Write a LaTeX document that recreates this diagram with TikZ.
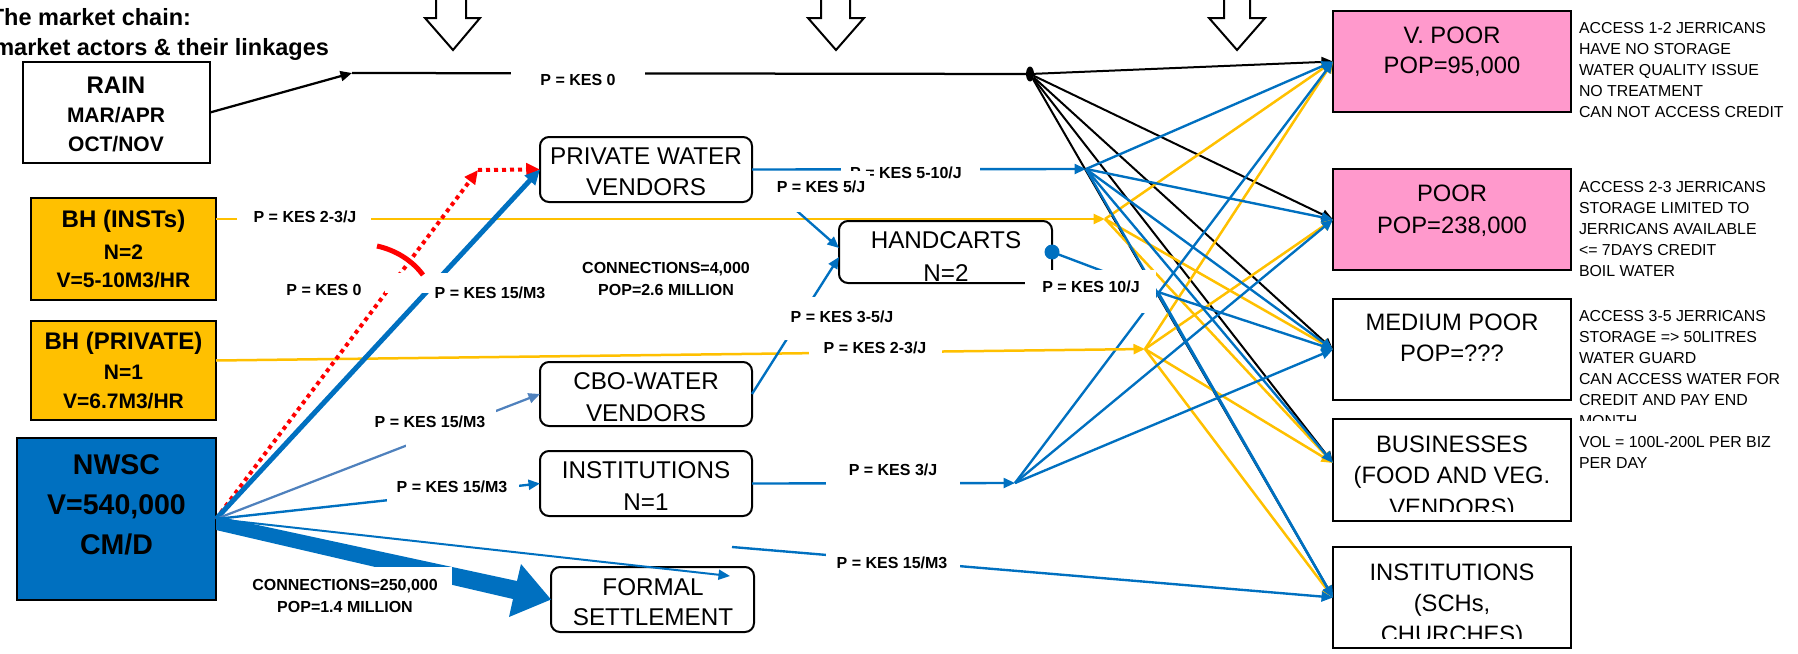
\documentclass[tikz,border=0pt]{standalone}
\usepackage{fontspec}
\setmainfont{Liberation Sans}
\usetikzlibrary{arrows.meta,calc,fit,shapes.geometric}
\definecolor{cblue}{RGB}{0,112,192}
\definecolor{csteel}{RGB}{79,129,189}
\definecolor{cyellow}{RGB}{255,192,0}
\definecolor{cpink}{RGB}{255,153,204}
\definecolor{cred}{RGB}{255,0,0}
\newcommand{\fsz}[2]{\fontsize{#1}{#2}\selectfont}
\begin{document}
\begin{tikzpicture}[x=0.4pt,y=-0.4pt,
  every node/.style={inner sep=0pt, outer sep=0pt},
  frame/.style={draw=black, line width=0.8pt, inner sep=0pt},
  rframe/.style={frame, fill=white, rounded corners=3.6pt},
  tgt/.style={draw=black, line width=1pt, inner sep=0pt},
  btitle/.style={font={\bfseries\fsz{9.6}{11.6}}, align=center},
  btxt/.style={font={\bfseries\fsz{8.4}{11.4}}, align=center},
  boxtxt/.style={font={\fsz{9.7}{12.6}}, align=center},
  tgttxt/.style={font={\fsz{9.5}{12.4}}, align=center},
  note/.style={font={\fsz{6.35}{8.4}}, align=left, anchor=west},
  lbl/.style={font={\bfseries\fsz{6.4}{8.8}}, align=center},
  tip/.style={-{Triangle[length=4.6pt,width=4pt]}},
  bl/.style={draw=cblue, line width=0.95pt},
  yl/.style={draw=cyellow, line width=1pt},
  kl/.style={draw=black, line width=0.8pt},
  hollow/.style={draw=black, line width=0.8pt, fill=white},
]
\useasboundingbox (0,0) rectangle (1798,653);

% ---------- title
\node[anchor=base east, font={\bfseries\fsz{9.4}{11}}] (t1) at (191,25) {The market chain:};
\node[anchor=base east, font={\bfseries\fsz{9.4}{11}}] (t2) at (329,55) {market actors \& their linkages};

% ---------- hollow down arrows
\draw[hollow] (436,-6) -- (436,18) -- (425,18) -- (453,50) -- (480,18) -- (466,18) -- (466,-6);
\draw[hollow] (821,-6) -- (821,18) -- (808,18) -- (836,50) -- (864,18) -- (850,18) -- (850,-6);
\draw[hollow] (1224,-6) -- (1224,18) -- (1209,18) -- (1237,50) -- (1265,18) -- (1250,18) -- (1250,-6);

% ---------- boxes
\node[frame, fill=white, fit={(23,62) (210,163)}] (rain) {};
\node[frame, fill=cyellow, fit={(31,198) (216,300)}] (bhi) {};
\node[frame, fill=cyellow, fit={(31,321) (216,420)}] (bhp) {};
\node[frame, fill=cblue, fit={(17,438) (216,600)}] (nwsc) {};

\node[rframe, fit={(540,137) (752,202)}] (pwv) {};
\node[rframe, fit={(839,221) (1052,283)}] (hc) {};
\node[rframe, fit={(540,362) (752,426)}] (cbo) {};
\node[rframe, fit={(540,451) (752,516)}] (ins1) {};
\node[rframe, fit={(551,567) (754,632)}] (fs) {};

\node[tgt, fill=cpink, fit={(1333,11) (1571,112)}] (vp) {};
\node[tgt, fill=cpink, fit={(1333,169) (1571,270)}] (po) {};
\node[tgt, fill=white, fit={(1333,299) (1571,400)}] (mp) {};
\node[tgt, fill=white, fit={(1333,419) (1571,521)}] (bu) {};
\node[tgt, fill=white, fit={(1333,547) (1571,648)}] (is) {};

% ---------- junction points
\coordinate (rc) at (352,73);
\node[ellipse, fill=black, minimum width=3.2pt, minimum height=6pt] (dot) at (1030,74) {};
\coordinate (J1) at (1086,169);
\coordinate (J2) at (1105,219);
\coordinate (J3) at (1158,292);
\coordinate (J4) at (1145,349);
\coordinate (J5) at (1015,483);
\coordinate (bui) at ($(bu.west)+(0,-7)$);
\coordinate (rd) at (478,170);
\coordinate (hcin1) at (780,196);
\coordinate (fsin) at (730,576);
\coordinate (sch0) at (732,547);

% ---------- rain line
\draw[kl, line width=0.9pt, tip] (rain.east) -- (rc);
\draw[kl, line width=0.9pt] (rc) -- (dot);

% ---------- fan to consumers
\foreach \t in {vp.west,po.west,mp.west,bui,is.west} \draw[kl, tip] (dot) -- (\t);
\foreach \t in {vp.west,mp.west,bui} \draw[yl, tip] (J2) -- (\t);
\foreach \t in {vp.west,po.west,bui,is.west} \draw[yl, tip] (J4) -- (\t);
\foreach \t in {vp.west,po.west,mp.west,bui,is.west} \draw[bl, tip] (J1) -- (\t);
\foreach \t in {mp.west,is.west} \draw[bl, tip] (J3) -- (\t);
\foreach \t in {vp.west,po.west,mp.west} \draw[bl, tip] (J5) -- (\t);

% ---------- supply lines
\draw[yl, tip] (bhi.east |- J2) -- (J2);
\draw[yl, tip] ($(bhp.east)+(0,-10)$) -- (J4);
\draw[bl, tip] (pwv.east) -- (J1);
\node[circle, fill=cblue, minimum size=6pt] (hcdot) at (hc.east) {};
\draw[bl] (hcdot.center) -- (J3);
\draw[bl, tip] (ins1.east) -- (J5);
\draw[bl, tip] (hcin1) -- ($(hc.west)+(0,-4)$);
\draw[bl, tip] (cbo.east) -- ($(hc.west)+(0,5)$);

% ---------- from NWSC
\draw[cred, line width=1.6pt, dash pattern=on 1.6pt off 1.6pt, -{Triangle[length=5.5pt,width=5pt]}] (nwsc.east) -- (rd);
\draw[cred, line width=1.6pt, dash pattern=on 1.6pt off 1.6pt, -{Triangle[length=5.5pt,width=5pt]}] (rd) -- (pwv.west);
\draw[cblue, line width=2pt, -{Triangle[length=6pt,width=5.5pt]}] (nwsc.east) -- (pwv.west);
\draw[csteel, line width=0.9pt, tip] (nwsc.east) -- (cbo.west);
\draw[bl, tip] (nwsc.east) -- (ins1.west);
\draw[bl, line width=0.8pt, tip] (nwsc.east) -- (fsin);
\draw[bl, tip] (sch0) -- (is.west);
\fill[cblue] (216,516) -- (517,581) -- (521,564) -- (fs.west) -- (509,617) -- (513,599) -- (216,530) -- cycle;

% ---------- white gaps behind labels
\fill[white] (511,62) rectangle (645,90);
\fill[white] (237,206) rectangle (371,232);
\fill[white] (385,273) rectangle (550,293);
\fill[white] (406,405) rectangle (496,452);
\fill[white] (387,478) rectangle (519,506);
\fill[white] (809,340) rectangle (942,362);
\fill[white] (785,297) rectangle (900,340);
\fill[white] (841,158) rectangle (980,182);
\fill[white] (826,460) rectangle (960,495);
\fill[white] (826,549) rectangle (960,575);
\fill[white] (1025,270) rectangle (1156,313);
\fill[white] (245,567) rectangle (452,622);

% red blocking bar
\draw[cred, line width=2pt] (377,246) .. controls (395,250) and (412,260) .. (423,275);

% ---------- labels
\node[lbl] (l1) at (578,80) {P = KES 0};
\node[lbl] (l2) at (305,217) {P = KES 2-3/J};
\node[lbl] (l3) at (324,290) {P = KES 0};
\node[lbl] (l4) at (490,293) {P = KES 15/M3};
\node[lbl] (l5) at (666,279) {CONNECTIONS=4,000\\POP=2.6 MILLION};
\node[lbl] (l6) at (906,173) {P = KES 5-10/J};
\fill[white] (770,171) rectangle (870,212);
\node[lbl] (l7) at (821,187) {P = KES 5/J};
\node[lbl] (l8) at (842,317) {P = KES 3-5/J};
\node[lbl] (l9) at (1091,287) {P = KES 10/J};
\node[lbl] (l10) at (875,348) {P = KES 2-3/J};
\node[lbl] (l11) at (430,422) {P = KES 15/M3};
\node[lbl] (l12) at (452,487) {P = KES 15/M3};
\node[lbl] (l13) at (893,470) {P = KES 3/J};
\node[lbl] (l14) at (892,563) {P = KES 15/M3};
\node[lbl] (l15) at (345,596) {CONNECTIONS=250,000\\POP=1.4 MILLION};

% ---------- box texts
\node[font={\bfseries\fsz{9.6}{11}}] (raint) at (116,85) {RAIN};
\node[btxt, font={\bfseries\fsz{8.4}{11.6}}] (rains) at (116,129.5) {MAR/APR\\OCT/NOV};
\node[btitle] (bhit) at (123.5,221) {BH (INSTs)};
\node[btxt, font={\bfseries\fsz{8.4}{11.2}}] (bhis) at (123.5,266) {N=2\\V=5-10M3/HR};
\node[btitle] (bhpt) at (123.5,343) {BH (PRIVATE)};
\node[btxt, font={\bfseries\fsz{8.4}{11.6}}] (bhps) at (123.5,386.5) {N=1\\V=6.7M3/HR};
\node[font={\bfseries\fsz{11.4}{16}}, align=center] (nwsct) at (116.5,505) {NWSC\\V=540,000\\CM/D};

\node[boxtxt] (pwvt) at (646,172) {PRIVATE WATER\\VENDORS};
\node[boxtxt, font={\fsz{9.7}{13.2}}] (hct) at (946,256.5) {HANDCARTS\\N=2};
\node[boxtxt] (cbot) at (646,397) {CBO-WATER\\VENDORS};
\node[boxtxt, font={\fsz{9.7}{12.8}}] (ins1t) at (646,486.5) {INSTITUTIONS\\N=1};
\node[boxtxt, font={\fsz{9.7}{12}}] (fst) at (653,602.5) {FORMAL\\SETTLEMENT};

\node[tgttxt, font={\fsz{9.5}{12}}] (vpt) at (1452,52) {V. POOR\\POP=95,000};
\node[tgttxt, font={\fsz{9.5}{12.8}}] (pot) at (1452,211) {POOR\\POP=238,000};
\node[tgttxt, font={\fsz{9.5}{12.6}}] (mpt) at (1452,338) {MEDIUM POOR\\POP=???};
\begin{scope}
  \clip (1335,421) rectangle (1569,511);
  \node[tgttxt, font={\fsz{9.5}{12.6}}] (but) at (1452,478) {BUSINESSES\\(FOOD AND VEG.\\VENDORS)};
\end{scope}
\begin{scope}
  \clip (1335,549) rectangle (1569,638);
  \node[tgttxt, font={\fsz{9.5}{12.4}}] (ist) at (1452,606) {INSTITUTIONS\\(SCHs,\\CHURCHES)};
\end{scope}

% ---------- notes
\node[note] (vpn) at (1579,70) {ACCESS 1-2 JERRICANS\\HAVE NO STORAGE\\WATER QUALITY ISSUE\\NO TREATMENT\\CAN NOT ACCESS CREDIT};
\node[note] (pon) at (1579,229) {ACCESS 2-3 JERRICANS\\STORAGE LIMITED TO\\JERRICANS AVAILABLE\\<= 7DAYS CREDIT\\BOIL WATER};
\begin{scope}
  \clip (1575,290) rectangle (1798,420);
  \node[note] (mpn) at (1579,368.5) {ACCESS 3-5 JERRICANS\\STORAGE => 50LITRES\\WATER GUARD\\CAN ACCESS WATER FOR\\CREDIT AND PAY END\\MONTH};
\end{scope}
\node[note] (bun) at (1579,452.5) {VOL = 100L-200L PER BIZ\\PER DAY};
\end{tikzpicture}
\end{document}
